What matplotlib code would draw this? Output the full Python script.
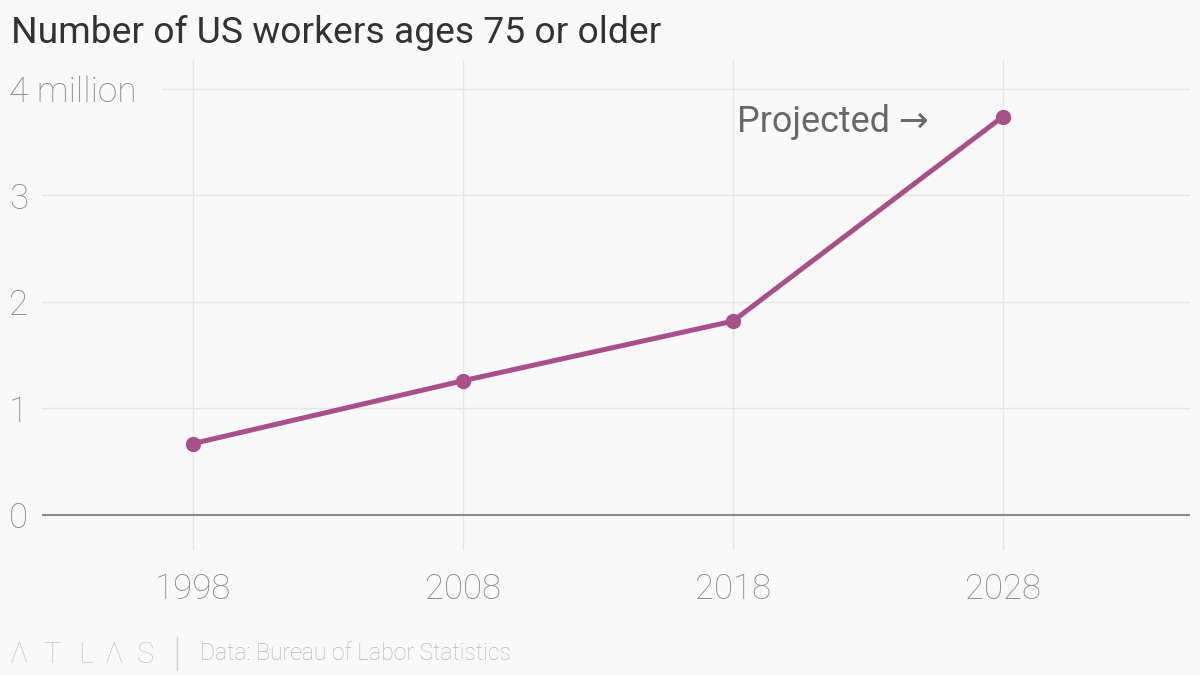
import matplotlib
matplotlib.use('Agg')
import matplotlib.pyplot as plt
from matplotlib.lines import Line2D

# Data (millions of workers aged 75+)
YEARS = [1998, 2008, 2018, 2028]
WORKERS = [0.67, 1.26, 1.82, 3.74]
Y_TICKS = [0, 1, 2, 3, 4]
Y_LABELS = ['0', '1', '2', '3', '4 million']

TITLE = 'Number of US workers ages 75 or older'
NOTE = 'Projected \u2192'
SOURCE = 'Data: Bureau of Labor Statistics'

BG = '#f9f9f9'
LINE_COLOR = '#a8508a'
FONT = ['Roboto', 'DejaVu Sans']

W, H = 1200, 675


def px(x, y):
    '''pixel position (from top-left) -> figure fraction'''
    return x / W, 1 - y / H


plt.rcParams['font.family'] = FONT

fig = plt.figure(figsize=(12, 6.75), dpi=100, facecolor=BG)
# axes spans x 42..1190 px, y 60..550 px
ax = fig.add_axes([42 / W, 1 - 550 / H, (1190 - 42) / W, (550 - 60) / H])
ax.set_facecolor(BG)

ax.plot(YEARS, WORKERS, color=LINE_COLOR, lw=3.6, marker='o', ms=10,
        solid_capstyle='round', zorder=3, clip_on=False)

ax.set_xlim(1992.41, 2034.93)
ax.set_ylim(-0.329, 4.272)

for s in ax.spines.values():
    s.set_visible(False)

# gridlines
for yr in YEARS:
    ax.axvline(yr, color='#e6e6e6', lw=1, zorder=1)
for v in Y_TICKS:
    if v == 0:
        ax.axhline(0, color='#8c8c8c', lw=1.5, zorder=2)
    elif v == Y_TICKS[-1]:
        ax.axhline(v, xmin=(162 - 42) / (1190 - 42), color='#e6e6e6', lw=1, zorder=1)
    else:
        ax.axhline(v, color='#e6e6e6', lw=1, zorder=1)

# ticks
ax.set_xticks(YEARS)
ax.set_xticklabels([str(y) for y in YEARS])
ax.set_yticks(Y_TICKS)
ax.set_yticklabels(Y_LABELS)
ax.tick_params(axis='both', length=0, colors='#8a8a8a', labelsize=25)
ax.tick_params(axis='x', pad=16)
ax.tick_params(axis='y', pad=(42 - 9) * 72 / 100)
for lab in ax.get_yticklabels():
    lab.set_ha('left')
for lab in ax.get_xticklabels() + ax.get_yticklabels():
    lab.set_fontweight('light')
ax.get_yticklabels()[-1].set_fontsize(25.5)

# annotation
ax.text(2018.15, 3.6, NOTE, fontsize=25.8, color='#686868', ha='left',
        va='baseline')

# title
fig.text(*px(11, 43), TITLE, fontsize=26.8, color='#333333', ha='left',
         va='baseline')

# footer
logo = ['\u039b', 'T', 'L', '\u039b', 'S']
logo_x = [10, 43, 78, 105, 137]
for ch, x in zip(logo, logo_x):
    fig.text(*px(x, 663), ch, fontsize=21, color='#c8c8c8', ha='left',
             va='baseline', fontweight='light')
fig.add_artist(Line2D([177 / W, 177 / W], [1 - 637 / H, 1 - 670 / H],
                      color='#cccccc', lw=1))
fig.text(*px(200, 660), SOURCE, fontsize=16.6, color='#b8b8b8', ha='left',
         va='baseline', fontweight='light')

fig.savefig('out.png', dpi=100, facecolor=BG)
